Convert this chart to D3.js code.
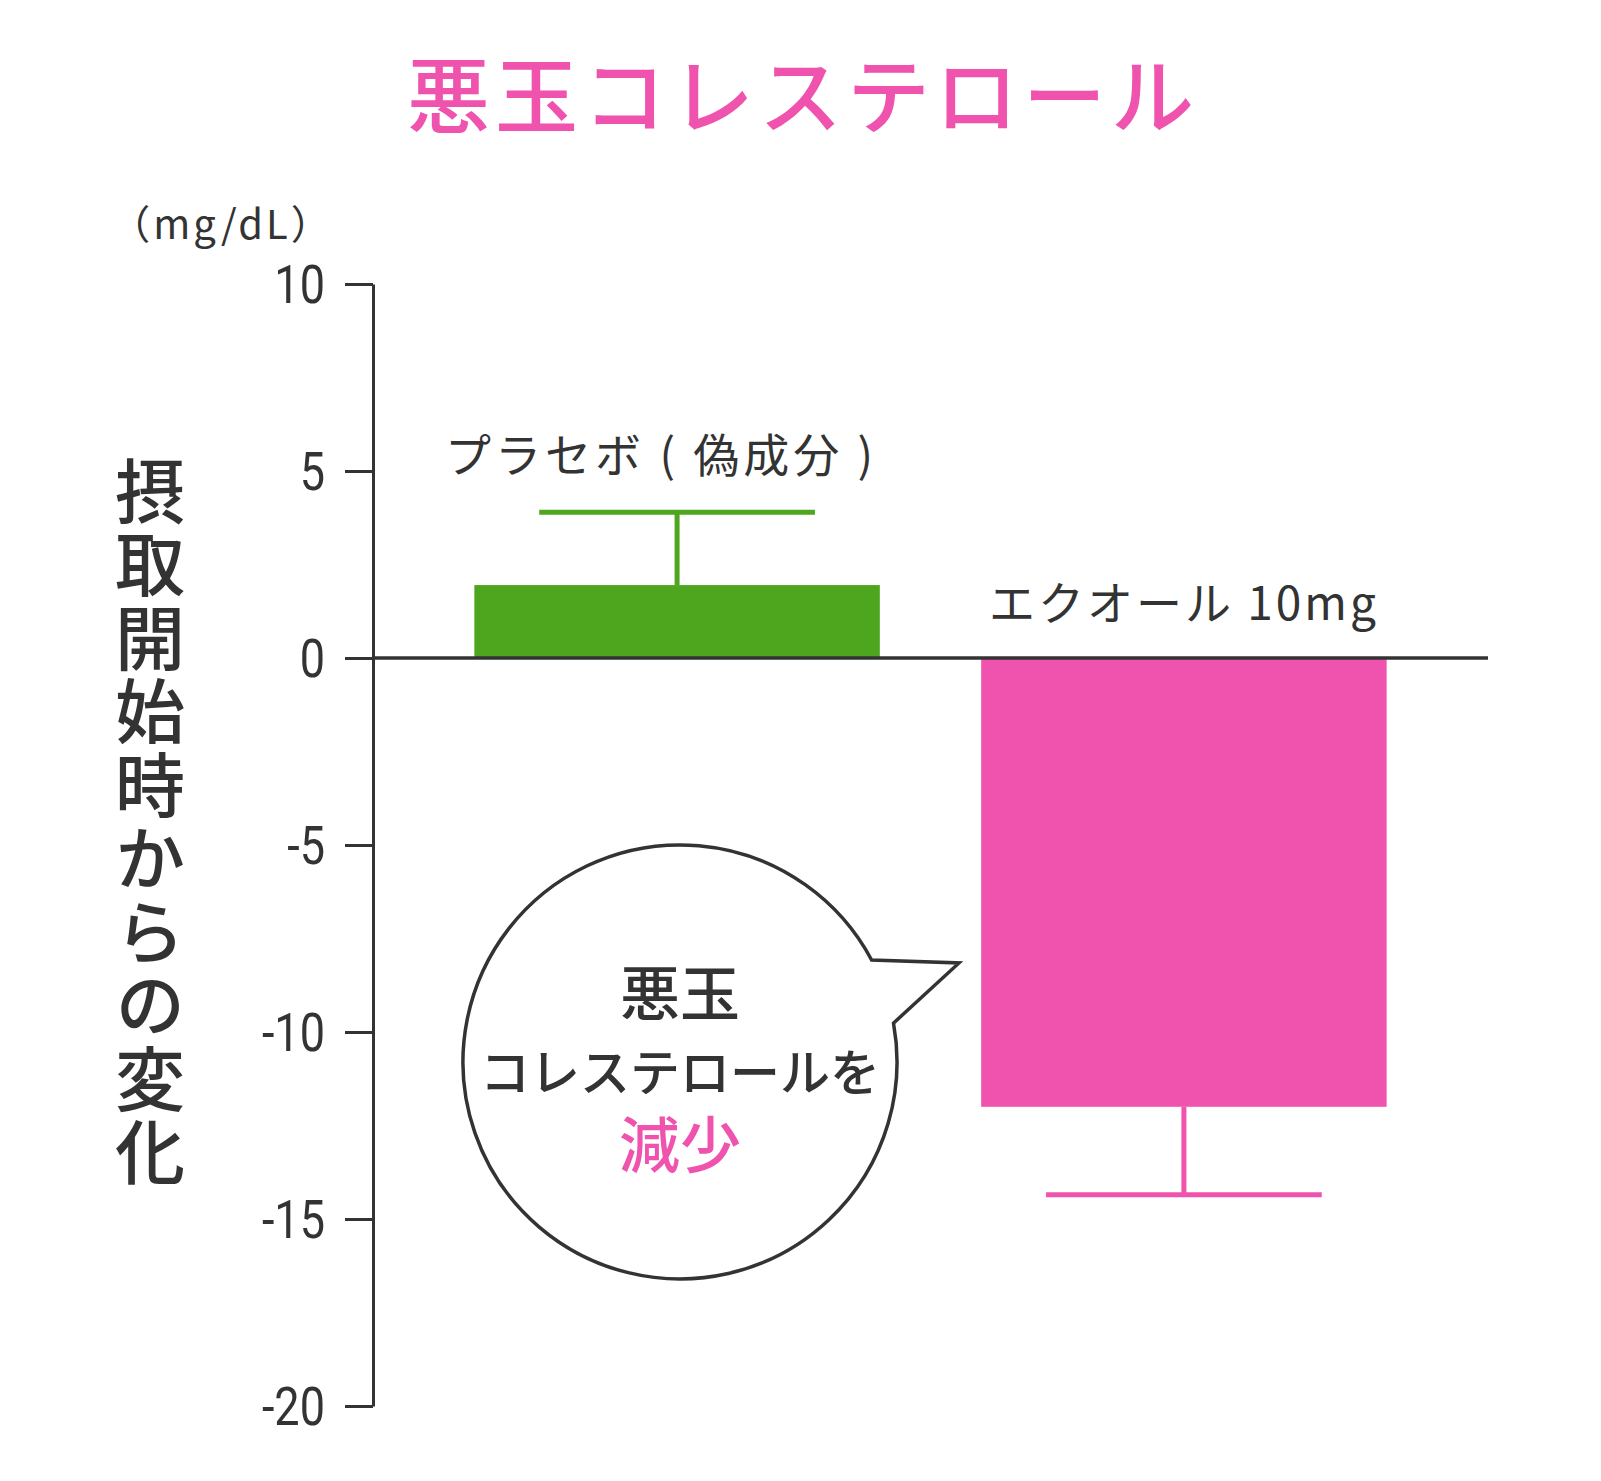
<!DOCTYPE html>
<html>
<head>
<meta charset="utf-8">
<script src="https://cdn.jsdelivr.net/npm/d3@7"></script>
<style>
  body { margin: 0; background: #fff; }
  svg { display: block; }
  text { font-family: "Noto Sans CJK JP", "Noto Sans", sans-serif; fill: #333; }
</style>
</head>
<body>
<div id="chart"></div>
<script>
// values
var groups = ["プラセボ ( 偽成分 )", "エクオール 10mg"];
var changes = [1.95, -12.0];
var errors = [1.95, 2.35];
var barColors = ["#4ea51e", "#ef53ae"];
var yTicks = [10, 5, 0, -5, -10, -15, -20];

var W = 1601, H = 1481;
var pink = "#ef53ae", ink = "#333";

var svg = d3.select("#chart").append("svg")
  .attr("width", W).attr("height", H);

var y = d3.scaleLinear().domain([-20, 10]).range([1406, 284]);
var x = d3.scaleBand().domain(groups).range([373, 1488])
  .paddingInner(0.2).paddingOuter(0.2);

// title
svg.append("text")
  .attr("x", 803).attr("y", 91)
  .attr("text-anchor", "middle").attr("dominant-baseline", "central")
  .style("font-size", "83px").style("font-weight", 500)
  .style("letter-spacing", "5px").style("fill", pink)
  .text("悪玉コレステロール");

// unit
svg.append("text")
  .attr("x", 222).attr("y", 222)
  .attr("text-anchor", "middle").attr("dominant-baseline", "central")
  .style("font-size", "40px").style("letter-spacing", "3px")
  .text("（mg/dL）");

// vertical axis title
svg.append("text")
  .attr("x", 150).attr("y", 456)
  .style("writing-mode", "vertical-rl")
  .style("text-orientation", "upright")
  .style("font-size", "70px").style("font-weight", 500)
  .style("letter-spacing", "3.5px")
  .text("摂取開始時からの変化");

// bars
svg.append("g").selectAll("rect")
  .data(groups).enter().append("rect")
  .attr("x", function(d) { return x(d); })
  .attr("width", x.bandwidth())
  .attr("y", function(d, i) { return y(Math.max(0, changes[i])); })
  .attr("height", function(d, i) { return Math.abs(y(changes[i]) - y(0)); })
  .attr("fill", function(d, i) { return barColors[i]; });

// error bars (one sided, away from zero)
var capW = x.bandwidth() * 0.68;
var err = svg.append("g").selectAll("g")
  .data(groups).enter().append("g")
  .attr("stroke", function(d, i) { return barColors[i]; })
  .attr("stroke-width", 5);
err.append("line")
  .attr("x1", function(d) { return x(d) + x.bandwidth() / 2; })
  .attr("x2", function(d) { return x(d) + x.bandwidth() / 2; })
  .attr("y1", function(d, i) { return y(changes[i]); })
  .attr("y2", function(d, i) { return y(changes[i] + Math.sign(changes[i]) * errors[i]); });
err.append("line")
  .attr("x1", function(d) { return x(d) + x.bandwidth() / 2 - capW / 2; })
  .attr("x2", function(d) { return x(d) + x.bandwidth() / 2 + capW / 2; })
  .attr("y1", function(d, i) { return y(changes[i] + Math.sign(changes[i]) * errors[i]); })
  .attr("y2", function(d, i) { return y(changes[i] + Math.sign(changes[i]) * errors[i]); });

// group labels
svg.append("text")
  .attr("x", x(groups[0]) + x.bandwidth() / 2 - 16)
  .attr("y", y(changes[0] + errors[0]) - 60)
  .attr("text-anchor", "middle").attr("dominant-baseline", "central")
  .style("font-size", "46px").style("letter-spacing", "4px")
  .text(groups[0]);
svg.append("text")
  .attr("x", x(groups[1]) + x.bandwidth() / 2)
  .attr("y", y(0) - 58)
  .attr("text-anchor", "middle").attr("dominant-baseline", "central")
  .style("font-size", "46px").style("letter-spacing", "3px")
  .text(groups[1]);

// y axis
var axis = svg.append("g")
  .attr("transform", "translate(373,0)")
  .call(d3.axisLeft(y).tickValues(yTicks).tickSize(28).tickSizeOuter(0)
    .tickFormat(function(d) { return String(d); }));
axis.select(".domain").attr("stroke", ink).attr("stroke-width", 3);
axis.selectAll(".tick line").attr("stroke", ink).attr("stroke-width", 3);
axis.selectAll(".tick text")
  .attr("fill", ink)
  .attr("x", -48 / 0.85).attr("dy", "0.35em")
  .attr("transform", "scale(0.85,1)")
  .style("font-family", "Roboto, sans-serif")
  .style("font-size", "53px");

// zero line
svg.append("line")
  .attr("x1", 373).attr("x2", 1488)
  .attr("y1", y(0)).attr("y2", y(0))
  .attr("stroke", ink).attr("stroke-width", 3.5);

// speech bubble
var cx = 680, cy = y(-10.8), r = 217;
var a1 = -28 * Math.PI / 180, a2 = -10.3 * Math.PI / 180;
var p2 = [cx + r * Math.cos(a2), cy + r * Math.sin(a2)];
var tip = [959, cy - 99];
var bubble = d3.path();
bubble.moveTo(p2[0], p2[1]);
bubble.arc(cx, cy, r, a2, a1 + 2 * Math.PI);
bubble.lineTo(tip[0], tip[1]);
bubble.closePath();
svg.append("path")
  .attr("d", bubble.toString())
  .attr("fill", "#fff").attr("stroke", ink).attr("stroke-width", 3.5)
  .attr("stroke-linejoin", "miter");

var bubbleLines = [
  {t: "悪玉", dy: -72, size: 60, color: ink},
  {t: "コレステロールを", dy: 7, size: 50, color: ink},
  {t: "減少", dy: 80, size: 61, color: pink}
];
svg.append("g").selectAll("text")
  .data(bubbleLines).enter().append("text")
  .attr("x", 680)
  .attr("y", function(d) { return cy + d.dy; })
  .attr("text-anchor", "middle").attr("dominant-baseline", "central")
  .style("font-size", function(d) { return d.size + "px"; })
  .style("font-weight", 500)
  .style("fill", function(d) { return d.color; })
  .text(function(d) { return d.t; });
</script>
</body>
</html>
